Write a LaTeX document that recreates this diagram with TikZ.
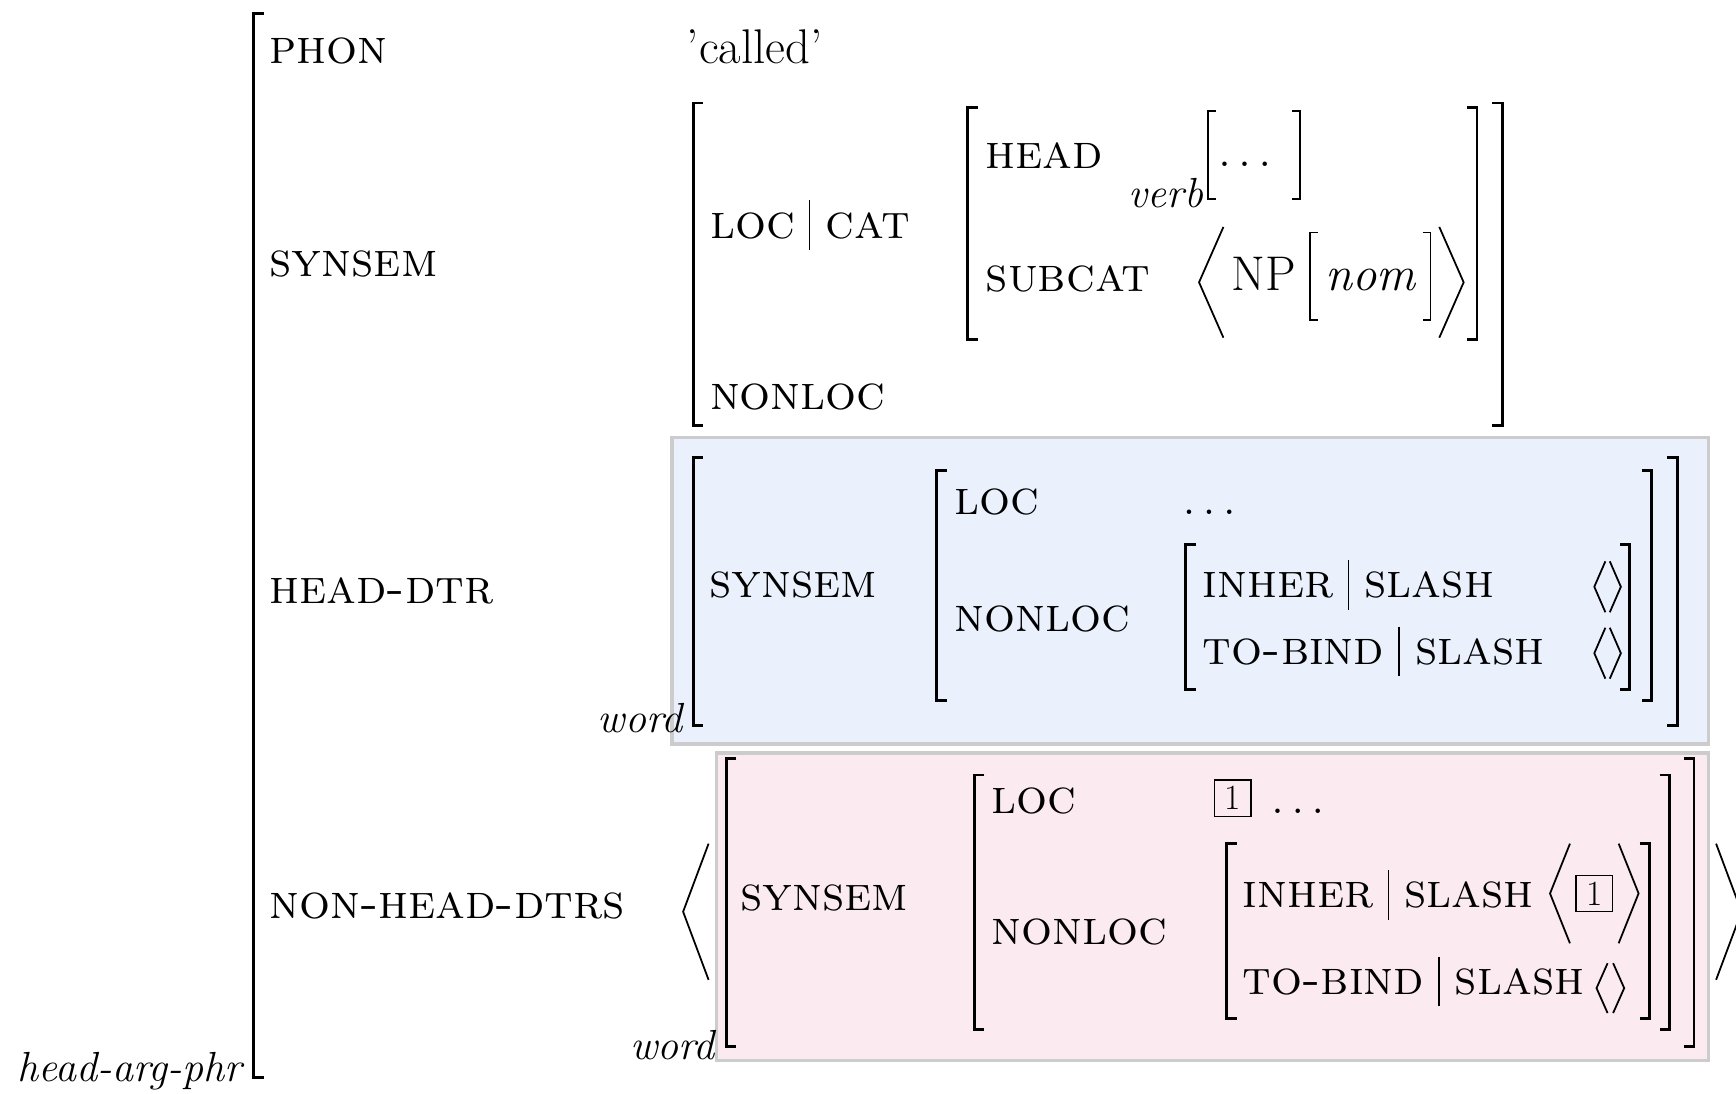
\documentclass[tikz,border=0pt]{standalone}
\usetikzlibrary{calc}

\definecolor{hdfill}{RGB}{234,241,252}
\definecolor{nhfill}{RGB}{251,234,240}
\definecolor{boxedge}{RGB}{204,204,204}

\newcommand\avmsize{\fontsize{22}{26}\selectfont}
\newcommand\typsize{\fontsize{19}{23}\selectfont}

% square brackets: [style]{x}{top}{bottom}{tick}
\newcommand\avmlb[5][brk]{\draw[#1] ({#2+#5},#3) -- (#2,#3) -- (#2,#4) -- ({#2+#5},#4);}
\newcommand\avmrb[5][brk]{\draw[#1] ({#2-#5},#3) -- (#2,#3) -- (#2,#4) -- ({#2-#5},#4);}
% angle brackets: [style]{x}{top}{bottom}{width}
\newcommand\avmla[5][ang]{\draw[#1] ({#2+#5},#3) -- (#2,{(#3+#4)/2}) -- ({#2+#5},#4);}
\newcommand\avmra[5][ang]{\draw[#1] (#2,#3) -- ({#2+#5},{(#3+#4)/2}) -- (#2,#4);}
% attribute path A | B: {name}{x}{baseline}{A}{B}
\newcommand\avmpath[5]{%
  \node[attr] (#1a) at (#2,#3) {#4};
  \draw[pbar] ($(#1a.base east)+(13,-34)$) -- ($(#1a.base east)+(13,11)$);
  \node[attr] (#1b) at ($(#1a.base east)+(27,0)$) {#5};}

\tikzset{
  attr/.style={anchor=base west, inner sep=0pt, font=\avmsize\scshape},
  val/.style={anchor=base west, inner sep=0pt, font=\avmsize},
  typ/.style={anchor=base east, inner sep=0pt, font=\typsize\itshape},
  brk/.style={line width=1.3pt},
  thinbrk/.style={line width=0.8pt},
  ang/.style={line width=0.8pt, line join=miter},
  pbar/.style={line width=0.6pt},
  tagbox/.style={draw, line width=0.6pt, inner sep=0pt, minimum width=16.5pt,
    minimum height=16.5pt, font=\fontsize{16}{17}\selectfont},
  dtrbox/.style={draw=boxedge, line width=1.5pt}
}

\begin{document}
\begin{tikzpicture}[x=0.5pt, y=-0.5pt]
\useasboundingbox (0,0) rectangle (1568,988);

% daughter boxes
\draw[dtrbox, fill=hdfill] (607,395) rectangle (1543,672);
\draw[dtrbox, fill=nhfill] (647,680) rectangle (1543,958);

% outer structure
\avmlb{229}{12}{973}{9}
\node[typ] (tphr) at (219,977) {head-arg-phr};
\node[attr] (aphon) at (243,57) {phon};
\node[val] (vphon) at (620,57) {'called'};
\node[attr] (asyn) at (243,250) {synsem};
\node[attr] (ahd) at (243,545) {head-dtr};
\node[attr] (anhd) at (243,830) {non-head-dtrs};

% SYNSEM value
\avmlb{626}{93}{384}{9}
\avmrb{1357}{93}{384}{9}
\avmpath{sLoc}{641}{215}{loc}{cat}
\node[attr] (sNonloc) at (641,370) {nonloc};
\avmlb{874}{97}{307}{9}
\avmrb{1334}{97}{307}{9}
\node[attr] (sHead) at (890,152) {head};
\node[typ] (tverb) at (1087,187) {verb};
\avmlb[thinbrk]{1091}{100}{180}{7}
\avmrb[thinbrk]{1174}{100}{180}{7}
\node[val] (vdots) at (1100,150) {$\dots$};
\node[attr] (sSubcat) at (890,263) {subcat};
\avmla{1083}{205}{305}{22}
\node[val] (vNP) at (1112,262) {NP};
\avmlb[thinbrk]{1183}{210}{289}{7}
\node[val] (vnom) at (1197,262) {\itshape nom};
\avmrb[thinbrk]{1292}{210}{289}{7}
\avmra{1300}{205}{305}{22}

% HEAD-DTR value
\node[typ] (tword1) at (617,662) {word};
\avmlb{626}{413}{655}{9}
\avmrb{1515}{413}{655}{9}
\node[attr] (hSyn) at (640,540) {synsem};
\avmlb{846}{425}{633}{9}
\avmrb{1492}{425}{633}{9}
\node[attr] (hLoc) at (862,465) {loc};
\node[val] (hdots) at (1068,465) {$\dots$};
\node[attr] (hNonloc) at (862,570) {nonloc};
\avmlb{1071}{492}{623}{9}
\avmrb{1472}{492}{623}{9}
\avmpath{hInh}{1086}{540}{inher}{slash}
\avmla{1440}{507}{553}{10}
\avmra{1454}{507}{553}{10}
\avmpath{hTob}{1086}{600}{to-bind}{slash}
\avmla{1440}{567}{613}{10}
\avmra{1454}{567}{613}{10}

% NON-HEAD-DTRS value
\avmla[ang]{617}{762}{885}{23}
\avmra[ang]{1550}{762}{885}{23}
\node[typ] (tword2) at (646,957) {word};
\avmlb{656}{685}{945}{9}
\avmrb{1530}{685}{945}{9}
\node[attr] (nSyn) at (668,822) {synsem};
\avmlb{880}{700}{930}{9}
\avmrb{1508}{700}{930}{9}
\node[attr] (nLoc) at (895,735) {loc};
\node[tagbox] (tag1a) at (1113.5,721) {1};
\node[val] (ndots) at (1148,735) {$\dots$};
\node[attr] (nNonloc) at (895,853) {nonloc};
\avmlb{1108}{762}{920}{9}
\avmrb{1490}{762}{920}{9}
\avmpath{nInh}{1122}{820}{inher}{slash}
\avmla{1400}{762}{852}{18}
\node[tagbox] (tag1b) at (1440,807) {1};
\avmra{1462}{762}{852}{18}
\avmpath{nTob}{1122}{898}{to-bind}{slash}
\avmla{1442}{870}{915}{10}
\avmra{1457}{870}{915}{10}
\end{tikzpicture}
\end{document}
